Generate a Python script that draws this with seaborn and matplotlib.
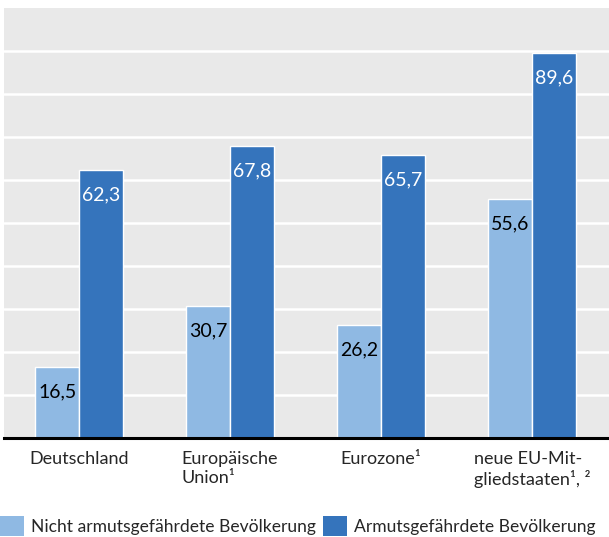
import matplotlib
matplotlib.use("Agg")
import matplotlib.pyplot as plt
import seaborn as sns
import pandas as pd
from matplotlib.patches import Patch

# Data
categories = ["Deutschland", "Europäische\nUnion¹", "Eurozone¹", "neue EU-Mit-\ngliedstaaten¹, ²"]
nicht_armut = [16.5, 30.7, 26.2, 55.6]
armut = [62.3, 67.8, 65.7, 89.6]
series = ["Nicht armutsgefährdete Bevölkerung", "Armutsgefährdete Bevölkerung"]
colors = ["#8fb9e3", "#3574bc"]

df = pd.DataFrame({
    "Kategorie": categories * 2,
    "Gruppe": [series[0]] * 4 + [series[1]] * 4,
    "Wert": nicht_armut + armut,
})

sns.set_style("white")
plt.rcParams["font.family"] = ["Lato", "DejaVu Sans"]

fig = plt.figure(figsize=(6.09, 5.37), dpi=100)
ax = fig.add_axes([4 / 609, (537 - 438) / 537, 605 / 609, 430 / 537])
ax.set_facecolor("#e9e9e9")

sns.barplot(data=df, x="Kategorie", y="Wert", hue="Gruppe", palette=colors,
            saturation=1, width=0.58, gap=0.0, edgecolor="white", linewidth=1.0,
            legend=False, ax=ax, zorder=3)

ax.set_ylim(0, 100)
ax.set_xlim(-0.497, 3.51)
ax.set_yticks(range(10, 100, 10))
ax.yaxis.grid(True, color="white", linewidth=1.8, zorder=0)
ax.set_axisbelow(True)
ax.tick_params(axis="y", left=False, labelleft=False)
ax.tick_params(axis="x", bottom=False, labelsize=13, pad=6)
ax.set_xlabel("")
ax.set_ylabel("")
for side in ["top", "left", "right"]:
    ax.spines[side].set_visible(False)
ax.spines["bottom"].set_color("black")
ax.spines["bottom"].set_linewidth(2.2)
ax.spines["bottom"].set_zorder(5)

for lbl in ax.get_xticklabels():
    lbl.set_multialignment("left")
    lbl.set_verticalalignment("top")

# Value labels inside bars
for container, txtcol in zip(ax.containers, ["black", "white"]):
    labels = [f"{b.get_height():.1f}".replace(".", ",") for b in container]
    ax.bar_label(container, labels=labels, padding=-24, color=txtcol,
                 fontsize=14, zorder=6)

handles = [Patch(facecolor=c, edgecolor="none") for c in colors]
fig.legend(handles, series, loc="lower left", bbox_to_anchor=(0.0, 0.002),
           ncol=2, frameon=False, fontsize=12.6, handlelength=1.35,
           handleheight=1.35, handletextpad=0.4, columnspacing=0.45,
           borderaxespad=0.0, borderpad=0.0)

fig.savefig("out.png", dpi=100)
